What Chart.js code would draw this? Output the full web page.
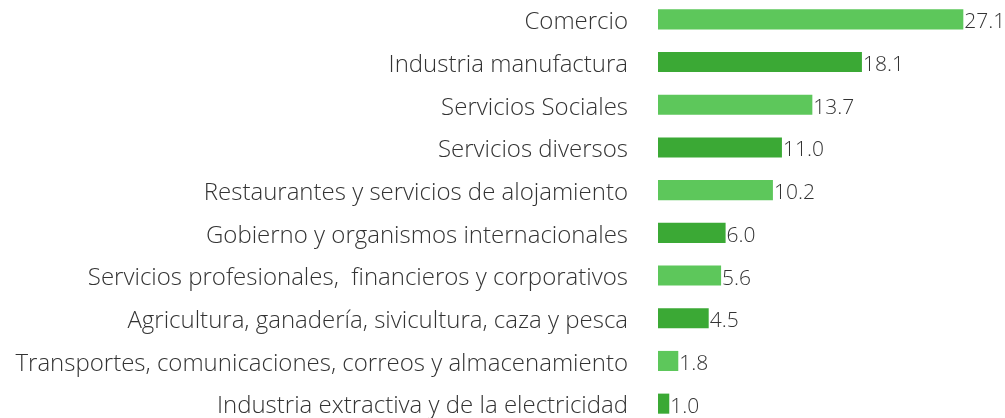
<!DOCTYPE html>
<html>
<head>
<meta charset="utf-8">
<script src="https://cdn.jsdelivr.net/npm/chart.js@4"></script>
<style>
  html, body { margin: 0; padding: 0; background: #fff; overflow: hidden; }
  #chart { position: absolute; left: 0; top: -2px; }
</style>
</head>
<body>
<canvas id="chart" width="1005" height="427"></canvas>
<script>
// Sector labels, top to bottom
const sectors = [
  'Comercio',
  'Industria manufactura',
  'Servicios Sociales',
  'Servicios diversos',
  'Restaurantes y servicios de alojamiento',
  'Gobierno y organismos internacionales',
  'Servicios profesionales,  financieros y corporativos',
  'Agricultura, ganadería, sivicultura, caza y pesca',
  'Transportes, comunicaciones, correos y almacenamiento',
  'Industria extractiva y de la electricidad'
];

// Share (%) per sector
const shares = [27.1, 18.1, 13.7, 11.0, 10.2, 6.0, 5.6, 4.5, 1.8, 1.0];

const lightGreen = '#5dc75b';
const darkGreen = '#3ba935';
const barColors = shares.map((v, i) => i % 2 === 0 ? lightGreen : darkGreen);

const FONT = "'Open Sans', sans-serif";

// draw value text at bar end
const valueLabels = {
  id: 'valueLabels',
  afterDatasetsDraw(chart) {
    const ctx = chart.ctx;
    const meta = chart.getDatasetMeta(0);
    ctx.save();
    ctx.font = '300 21px ' + FONT;
    ctx.fillStyle = '#333333';
    ctx.textAlign = 'left';
    ctx.textBaseline = 'middle';
    meta.data.forEach((bar, i) => {
      ctx.fillText(shares[i].toFixed(1), bar.x + 1, bar.y + 3);
    });
    ctx.restore();
  }
};

new Chart(document.getElementById('chart'), {
  type: 'bar',
  data: {
    labels: sectors,
    datasets: [{
      data: shares,
      backgroundColor: barColors,
      borderWidth: 0,
      categoryPercentage: 1,
      barPercentage: 0.47
    }]
  },
  options: {
    indexAxis: 'y',
    responsive: false,
    animation: false,
    layout: { padding: { left: 0, right: 9, top: 0, bottom: 0 } },
    plugins: {
      legend: { display: false },
      tooltip: { enabled: false }
    },
    scales: {
      x: {
        min: 0,
        max: 30,
        display: false
      },
      y: {
        border: { display: false },
        grid: { display: false, drawTicks: false },
        ticks: {
          color: '#333333',
          padding: 30,
          labelOffset: 3,
          font: { family: FONT, size: 24, weight: '300' }
        },
        afterFit(scale) {
          scale.width = 658;
          scale.paddingTop = 0;
          scale.paddingBottom = 0;
        }
      }
    }
  },
  plugins: [valueLabels]
});
</script>
</body>
</html>
